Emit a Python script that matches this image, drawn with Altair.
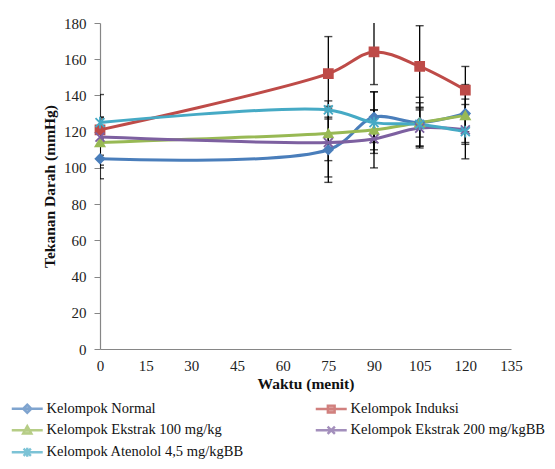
import altair as alt
import pandas as pd

times = [0, 75, 90, 105, 120]
groups = [
    "Kelompok Normal",
    "Kelompok Induksi",
    "Kelompok Ekstrak 100 mg/kg",
    "Kelompok Ekstrak 200 mg/kgBB",
    "Kelompok Atenolol 4,5 mg/kgBB",
]
normal_mean = [105, 110, 128, 125, 130]
normal_sd = [11, 18, 14, 14, 16]
induksi_mean = [121, 152, 164, 156, 143]
induksi_sd = [19.5, 20.5, 18, 22.5, 13]
ekstrak100_mean = [114, 119, 121, 125, 129]
ekstrak100_sd = [14, 15, 11, 8, 9]
ekstrak200_mean = [117, 114, 116, 122, 121]
ekstrak200_sd = [10, 19, 16, 10, 8]
atenolol_mean = [125, 132, 125, 124, 120]
atenolol_sd = [3, 5, 17, 12, 15]

y_ticks = [0, 20, 40, 60, 80, 100, 120, 140, 160, 180]
x_ticks = [0, 15, 30, 45, 60, 75, 90, 105, 120, 135]

colors = ["#4A7EBB", "#BE4B48", "#98B954", "#7D60A0", "#46AAC5"]
point_shapes = [
    "diamond",
    "square",
    "triangle-up",
    "M-1,-1L1,1M-1,1L1,-1",
    "M-1,-1L1,1M-1,1L1,-1M0,-1.3L0,1.3",
]
legend_shapes = [
    "M-3.4,0L3.4,0M0,-0.9L0.9,0L0,0.9L-0.9,0Z",
    "M-3.4,0L3.4,0M-0.75,-0.75L0.75,-0.75L0.75,0.75L-0.75,0.75Z",
    "M-3.4,0L3.4,0M0,-0.9L0.9,0.7L-0.9,0.7Z",
    "M-3.4,0L3.4,0M-0.8,-0.8L0.8,0.8M-0.8,0.8L0.8,-0.8",
    "M-3.4,0L3.4,0M-0.8,-0.8L0.8,0.8M-0.8,0.8L0.8,-0.8M0,-1L0,1",
]
# legend entries fill column by column: two columns, three rows
legend_order = [0, 2, 4, 1, 3]

means = [normal_mean, induksi_mean, ekstrak100_mean, ekstrak200_mean, atenolol_mean]
sds = [normal_sd, induksi_sd, ekstrak100_sd, ekstrak200_sd, atenolol_sd]

rows = []
for g, m, s in zip(groups, means, sds):
    for t, mv, sv in zip(times, m, s):
        rows.append({"group": g, "time": t, "mean": mv, "lo": mv - sv, "hi": mv + sv})
df = pd.DataFrame(rows)

serif = "Liberation Serif"

x_axis = alt.Axis(
    values=x_ticks,
    ticks=False,
    grid=False,
    domainColor="#868686",
    domainWidth=1.2,
    labelFont=serif,
    labelFontSize=15,
    labelColor="#222222",
    labelPadding=9,
    labelOverlap=False,
    labelFlush=False,
    title="Waktu (menit)",
    titleFont=serif,
    titleFontSize=15.5,
    titleFontWeight="bold",
    titleColor="#111111",
    titlePadding=3,
)
y_axis = alt.Axis(
    values=y_ticks,
    tickSize=6,
    grid=False,
    domainColor="#868686",
    domainWidth=1.2,
    tickColor="#868686",
    labelFont=serif,
    labelFontSize=15,
    labelColor="#222222",
    labelPadding=8,
    labelOverlap=False,
    labelFlush=False,
    title="Tekanan Darah (mmHg)",
    titleFont=serif,
    titleFontSize=15.5,
    titleFontWeight="bold",
    titleColor="#111111",
    titlePadding=6,
)
xscale = alt.Scale(domain=[0, 135], nice=False, zero=False)
yscale = alt.Scale(domain=[0, 180], nice=False)


def X():
    return alt.X("time:Q", scale=xscale, axis=x_axis)


def Y(field):
    return alt.Y(field, type="quantitative", scale=yscale, axis=y_axis)


base = alt.Chart(df)

bars = base.mark_rule(color="black", strokeWidth=1.3, clip=True).encode(
    x=X(), y=Y("lo"), y2="hi:Q"
)
caps_lo = base.mark_tick(color="black", orient="horizontal", size=8, thickness=1.4, clip=True).encode(
    x=X(), y=Y("lo")
)
caps_hi = base.mark_tick(color="black", orient="horizontal", size=8, thickness=1.4, clip=True).encode(
    x=X(), y=Y("hi")
)

lines = base.mark_line(interpolate="catmull-rom", strokeWidth=3).encode(
    x=X(),
    y=Y("mean"),
    color=alt.Color("group:N", scale=alt.Scale(domain=groups, range=colors), legend=None),
    detail="group:N",
)

points = base.mark_point(filled=True, size=80, strokeWidth=1.8, opacity=1).encode(
    x=X(),
    y=Y("mean"),
    fill=alt.Fill("group:N", scale=alt.Scale(domain=groups, range=colors), legend=None),
    stroke=alt.Stroke("group:N", scale=alt.Scale(domain=groups, range=colors), legend=None),
    shape=alt.Shape("group:N", scale=alt.Scale(domain=groups, range=point_shapes), legend=None),
)

lg_domain = [groups[i] for i in legend_order]
lg_colors = [colors[i] for i in legend_order]
lg_shapes = [legend_shapes[i] for i in legend_order]


def make_legend():
    return alt.Legend(
        title=None,
        orient="none",
        legendX=-80,
        legendY=378,
        padding=0,
        columns=2,
        columnPadding=66,
        rowPadding=3,
        symbolSize=83,
        symbolStrokeWidth=2.4,
        symbolOffset=0,
        labelOffset=12,
        labelFont=serif,
        labelFontSize=14.5,
        labelColor="#111111",
        labelLimit=400,
    )


legend_layer = base.mark_point(filled=True, size=0, strokeWidth=2.4).encode(
    x=X(),
    y=Y("mean"),
    fill=alt.Fill("group:N", scale=alt.Scale(domain=lg_domain, range=lg_colors), legend=make_legend()),
    stroke=alt.Stroke("group:N", scale=alt.Scale(domain=lg_domain, range=lg_colors), legend=make_legend()),
    shape=alt.Shape("group:N", scale=alt.Scale(domain=lg_domain, range=lg_shapes), legend=make_legend()),
)

chart = (
    alt.layer(bars, caps_lo, caps_hi, lines, points, legend_layer)
    .resolve_scale(shape="independent", color="independent", fill="independent", stroke="independent")
    .properties(
        width=411,
        height=326,
        padding={"left": 92, "top": 15, "right": 36, "bottom": 112},
        autosize=alt.AutoSizeParams(type="none"),
    )
    .configure(font=serif)
    .configure_view(stroke=None)
)

chart.save("out.html", embed_options={"renderer": "svg", "actions": False})
